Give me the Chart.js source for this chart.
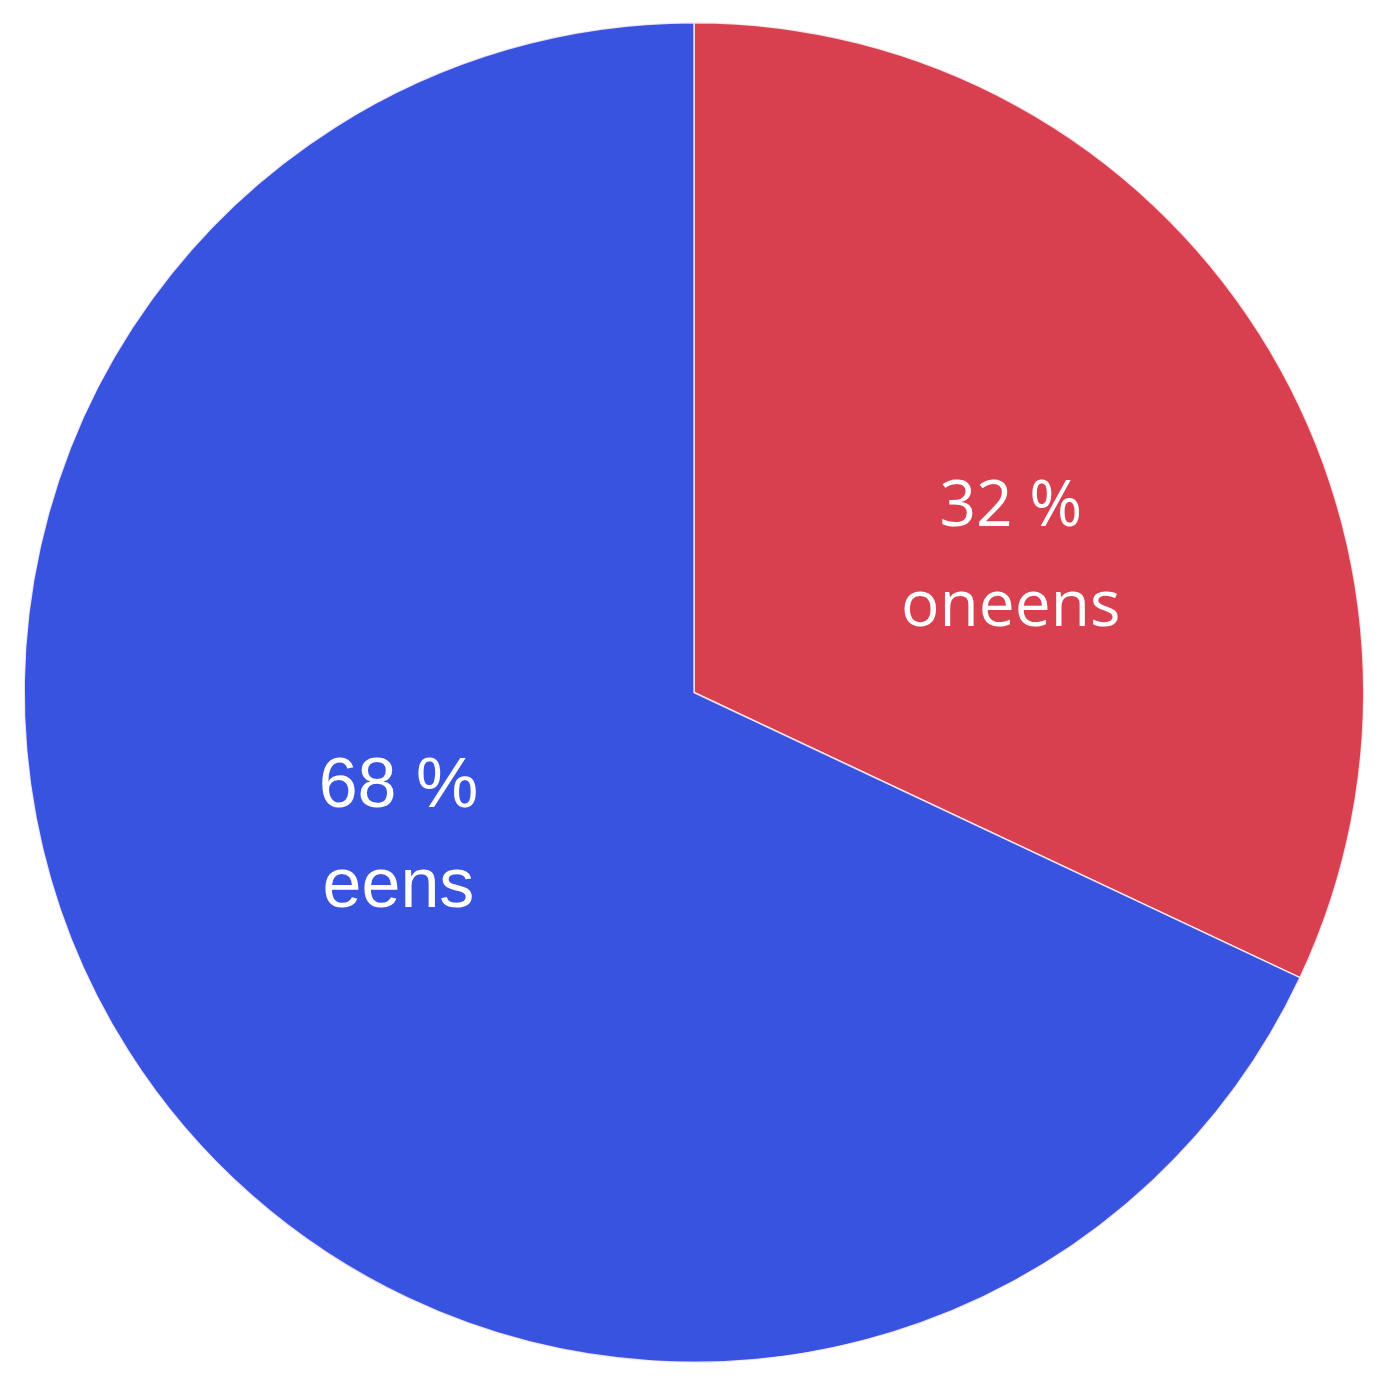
<!DOCTYPE html>
<html>
<head>
<meta charset="utf-8">
<style>
html,body{margin:0;padding:0;background:#fff;}
#wrap{width:1388px;height:1385px;}
</style>
<script src="https://cdn.jsdelivr.net/npm/chart.js@4"></script>
</head>
<body>
<div id="wrap"><canvas id="c" width="1388" height="1385"></canvas></div>
<script>
const categories = ['oneens', 'eens'];
const values = [32, 68];
const valueLabels = ['32 %', '68 %'];
const sliceColors = ['#d8404f', '#3853df'];

const labelPlugin = {
  id: 'sliceLabels',
  afterDatasetsDraw(chart, args, opts) {
    const ctx = chart.ctx;
    const meta = chart.getDatasetMeta(0);
    meta.data.forEach((arc, i) => {
      const p = arc.getProps(['x','y','startAngle','endAngle','outerRadius'], true);
      const mid = (p.startAngle + p.endAngle) / 2 + opts.angleShift[i] * Math.PI / 180;
      const r = p.outerRadius * opts.radiusFrac[i];
      const cx = p.x + Math.cos(mid) * r;
      const cy = p.y + Math.sin(mid) * r;
      ctx.save();
      ctx.fillStyle = '#ffffff';
      ctx.textAlign = 'center';
      ctx.textBaseline = 'alphabetic';
      ctx.font = opts.fonts[i];
      ctx.fillText(valueLabels[i], cx, cy - 50);
      ctx.fillText(categories[i], cx, cy + 50);
      ctx.restore();
    });
  }
};

new Chart(document.getElementById('c'), {
  type: 'pie',
  data: {
    labels: categories,
    datasets: [{
      data: values,
      backgroundColor: sliceColors,
      borderColor: 'rgba(255,240,245,0.85)',
      borderWidth: 1.5
    }]
  },
  options: {
    responsive: false,
    animation: false,
    layout: { padding: 22 },
    plugins: {
      legend: { display: false },
      tooltip: { enabled: false },
      sliceLabels: {
        angleShift: [12.2, 3.3],
        radiusFrac: [0.504, 0.505],
        fonts: ['64px "Open Sans"', '70px "Liberation Sans"']
      }
    }
  },
  plugins: [labelPlugin]
});
</script>
</body>
</html>
